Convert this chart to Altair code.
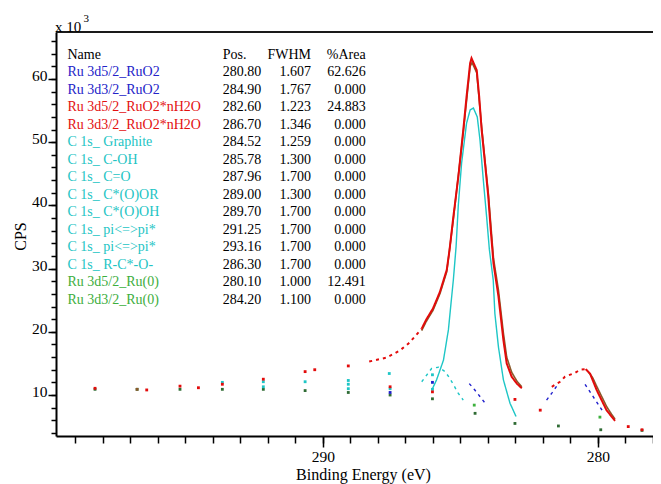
import altair as alt
import pandas as pd

# ------------------------------------------------------------------ data
# CasaXPS component table
table_header = ["Name", "Pos.", "FWHM", "%Area"]
comp_names = ["Ru 3d5/2_RuO2", "Ru 3d3/2_RuO2", "Ru 3d5/2_RuO2*nH2O", "Ru 3d3/2_RuO2*nH2O",
              "C 1s_ Graphite", "C 1s_ C-OH", "C 1s_ C=O", "C 1s_ C*(O)OR", "C 1s_ C*(O)OH",
              "C 1s_ pi<=>pi*", "C 1s_ pi<=>pi*", "C 1s_ R-C*-O-",
              "Ru 3d5/2_Ru(0)", "Ru 3d3/2_Ru(0)"]
comp_pos = ["280.80", "284.90", "282.60", "286.70", "284.52", "285.78", "287.96",
            "289.00", "289.70", "291.25", "293.16", "286.30", "280.10", "284.20"]
comp_fwhm = ["1.607", "1.767", "1.223", "1.346", "1.259", "1.300", "1.700",
             "1.300", "1.700", "1.700", "1.700", "1.700", "1.000", "1.100"]
comp_area = ["62.626", "0.000", "24.883", "0.000", "0.000", "0.000", "0.000",
             "0.000", "0.000", "0.000", "0.000", "0.000", "12.491", "0.000"]
comp_kind = ["RuO2", "RuO2", "RuO2*nH2O", "RuO2*nH2O"] + ["C 1s"] * 8 + ["Ru(0)", "Ru(0)"]

# curves: binding energy (eV) and counts (CPS x 10^3)
env_be = [298.29, 296.41, 295.20, 294.53, 293.66, 292.17, 290.65, 290.30, 289.08,
          288.32, 287.70, 287.22, 286.90, 286.65, 286.41, 286.25, 286.00, 285.75, 285.50, 285.40,
          285.26, 285.08, 284.90, 284.78, 284.65, 284.60, 284.41, 284.32, 284.23, 284.11, 283.99,
          283.90, 283.80, 283.62, 283.44, 283.32, 283.14, 282.95, 282.77,
          281.68, 281.38, 281.20, 280.84, 280.65, 280.45, 280.29, 280.05, 279.87, 279.69, 279.38,
          278.90, 278.40]
env_cps = [11.06, 10.80, 11.40, 11.15, 11.70, 12.50, 13.70, 14.00, 14.60,
           15.30, 15.90, 17.00, 18.10, 19.30, 20.50, 21.90, 23.70, 26.30, 29.80, 32.90,
           38.20, 44.50, 51.90, 57.20, 62.50, 63.30, 61.40, 57.20, 51.90, 46.70, 41.40,
           36.10, 30.80, 25.60, 18.70, 15.00, 12.90, 11.80, 11.06,
           11.30, 12.10, 12.90, 13.50, 14.00, 14.10, 13.40, 10.80, 9.20, 7.60, 5.90,
           5.00, 4.50]

data_be = [296.76, 286.41, 286.25, 286.00, 285.75, 285.50, 285.26, 284.90, 284.65, 284.58,
           284.41, 284.23, 283.99, 283.80, 283.62, 283.44, 283.32, 283.14, 282.95, 282.77,
           280.35, 280.20, 280.05, 279.87, 279.69, 279.50, 279.38]
data_cps = [10.90, 20.20, 21.60, 23.40, 26.00, 29.50, 37.80, 51.50, 62.00, 62.60,
            61.00, 52.40, 42.00, 31.60, 26.60, 19.80, 16.00, 13.60, 12.20, 11.30,
            13.60, 12.80, 11.40, 9.80, 8.20, 6.90, 6.20]

bg_be = [298.29, 296.76, 295.20, 293.66, 292.17, 290.65, 289.08, 287.56, 286.02,
         284.47, 283.02, 281.44, 279.90, 278.40]
bg_cps = [10.90, 10.90, 10.90, 10.90, 10.90, 10.70, 10.40, 10.00, 9.40,
          7.10, 5.50, 5.10, 4.50, 4.40]

graphite_be = [286.04, 285.87, 285.62, 285.44, 285.32, 285.26, 285.16, 285.08, 284.96, 284.78,
               284.65, 284.53, 284.39, 284.29, 284.17, 284.05, 283.95, 283.81, 283.75, 283.62,
               283.44, 283.20, 282.98]
graphite_cps = [10.80, 12.40, 15.50, 20.30, 25.60, 28.20, 33.50, 40.00, 46.70, 53.00,
                55.10, 55.40, 54.00, 50.30, 44.00, 38.20, 33.00, 28.20, 22.90, 17.60,
                12.40, 8.70, 6.60]

coh_be = [286.41, 286.05, 285.80, 285.56, 285.40, 285.25, 285.10, 284.90]
coh_cps = [12.10, 14.20, 14.40, 13.70, 12.70, 11.60, 10.40, 9.20]

cminor_be = [293.66, 292.17, 292.17, 290.65, 289.08, 289.08, 289.08, 287.59, 287.56, 286.02, 286.02]
cminor_cps = [12.00, 12.10, 11.30, 12.10, 12.30, 11.70, 11.00, 13.40, 11.00, 13.20, 10.90]

ruo2_32_be = [287.56, 286.02, 284.68, 284.50, 284.30, 284.05]
ruo2_32_cps = [10.40, 12.00, 11.80, 10.90, 9.80, 8.40]

ruo2_52_be = [281.87, 281.68, 281.44, 280.47, 280.17, 279.93, 279.78]
ruo2_52_cps = [9.20, 10.30, 11.80, 11.70, 9.70, 8.10, 7.10]

hyd_52_be = [283.02, 282.10]
hyd_52_cps = [9.30, 7.60]
hyd_32_be = [287.56, 286.02]
hyd_32_cps = [11.30, 10.50]

ru0_32_be = [284.50]
ru0_32_cps = [8.40]
ru0_52_be = [279.93]
ru0_52_cps = [6.50]

curves = {
    "background": (bg_be, bg_cps),
    "c_minor": (cminor_be, cminor_cps),
    "hyd_32": (hyd_32_be, hyd_32_cps),
    "hyd_52": (hyd_52_be, hyd_52_cps),
    "ru0_32": (ru0_32_be, ru0_32_cps),
    "ru0_52": (ru0_52_be, ru0_52_cps),
    "ruo2_32": (ruo2_32_be, ruo2_32_cps),
    "ruo2_52": (ruo2_52_be, ruo2_52_cps),
    "c_oh": (coh_be, coh_cps),
    "graphite": (graphite_be, graphite_cps),
    "data": (data_be, data_cps),
    "envelope": (env_be, env_cps),
}

# ------------------------------------------------------------------ style
SERIF = "Liberation Serif"
W, H = 597, 404
SEGMENTS = {
    "envelope": [(298.4, 289.0, "sparse"), (288.32, 286.41, "dotted"), (286.41, 282.77, "solid"),
                 (281.68, 280.45, "dotted"), (280.45, 279.38, "solid"), (278.9, 278.4, "sparse")],
    "data": [(296.8, 296.7, "sparse"), (286.41, 282.77, "solid"), (280.35, 279.38, "solid")],
    "background": [(299.0, 278.0, "sparse")],
    "graphite": [(286.04, 282.98, "solid")],
    "c_oh": [(286.41, 284.90, "dotted")],
    "c_minor": [(299.0, 278.0, "sparse")],
    "ruo2_32": [(287.6, 286.0, "sparse"), (284.68, 284.05, "dotted")],
    "ruo2_52": [(281.87, 281.44, "dotted"), (280.47, 279.78, "dotted")],
    "hyd_52": [(299.0, 278.0, "sparse")],
    "hyd_32": [(299.0, 278.0, "sparse")],
    "ru0_32": [(299.0, 278.0, "sparse")],
    "ru0_52": [(299.0, 278.0, "sparse")],
}
COLORS = {
    "envelope": "#E30B0B", "data": "#8B5A2B", "background": "#2F6B34",
    "graphite": "#1EC6C6", "c_oh": "#1EC6C6", "c_minor": "#1EC6C6",
    "ruo2_32": "#1F1FCC", "ruo2_52": "#1F1FCC",
    "hyd_52": "#E30B0B", "hyd_32": "#E30B0B",
    "ru0_32": "#3DB13D", "ru0_52": "#3DB13D",
    "RuO2": "#2323C8", "RuO2*nH2O": "#E31010", "C 1s": "#22C4C4", "Ru(0)": "#3DAE3D",
    "plain": "#000000",
}
color_scale = alt.Scale(domain=list(COLORS.keys()), range=list(COLORS.values()))
dash_scale = alt.Scale(domain=["solid", "dotted"], range=[[1, 0], [3, 4]])

rows = []
for key, (be, cps) in curves.items():
    for i, (hi, lo, style) in enumerate(SEGMENTS[key]):
        for b, c in zip(be, cps):
            if lo - 1e-6 <= b <= hi + 1e-6:
                rows.append({"key": key, "seg": f"{key}{i}", "style": style, "be": b, "cps": c})
df = pd.DataFrame(rows)

X_SCALE = alt.Scale(domain=[299.709, 299.709 - W / 27.5], nice=False, zero=False)
Y_SCALE = alt.Scale(domain=[3.513, 67.44], nice=False, zero=False)

X_AXIS = alt.Axis(orient="bottom", values=[290, 280], format="d", tickSize=11, tickWidth=1.5,
                  tickColor="black",
                  labelFont=SERIF, labelFontSize=15.5, labelColor="black", labelPadding=2,
                  domainColor="black", domainWidth=2, grid=False,
                  title="Binding Energy (eV)", titleFont=SERIF, titleFontSize=16,
                  titleFontWeight="normal", titleColor="black",
                  titleX=307, titleY=30, titleBaseline="top", titleAlign="center")
Y_AXIS = alt.Axis(orient="left", values=[10, 20, 30, 40, 50, 60], format="d", tickSize=8,
                  tickWidth=1.5,
                  tickColor="black", labelFont=SERIF, labelFontSize=15.5, labelColor="black",
                  labelPadding=1, labelBaseline="alphabetic", labelOffset=1.5,
                  domainColor="black", domainWidth=2, grid=False,
                  title="CPS", titleFont=SERIF, titleFontSize=16, titleFontWeight="normal",
                  titleColor="black", titleAngle=270, titleX=-31, titleY=204,
                  titleBaseline="alphabetic", titleAlign="center")
X_MINOR = alt.Axis(values=list(range(278, 300)), tickSize=7, tickWidth=1.5, tickColor="black",
                   labels=False, domain=False, grid=False, title=None, orient="bottom")
Y_MINOR = alt.Axis(values=list(range(4, 67, 2)), tickSize=5, tickWidth=1.5, tickColor="black",
                   labels=False, domain=False, grid=False, title=None, orient="left")

xe = alt.X("be:Q", scale=X_SCALE, axis=X_AXIS)
ye = alt.Y("cps:Q", scale=Y_SCALE, axis=Y_AXIS)
ce = alt.Color("key:N", scale=color_scale, legend=None)

squares = alt.Chart(df[df["style"] == "sparse"]).mark_square(size=8, opacity=1).encode(
    x=xe, y=ye, color=ce)

comp_lines = df[(df["style"] != "sparse") & (~df["key"].isin(["envelope", "data"]))]
lines_comp = alt.Chart(comp_lines).mark_line(strokeWidth=1.4).encode(
    x=xe, y=ye, color=ce, detail="seg:N",
    strokeDash=alt.StrokeDash("style:N", scale=dash_scale, legend=None))
lines_data = alt.Chart(df[(df["style"] != "sparse") & (df["key"] == "data")]).mark_line(
    strokeWidth=1.6).encode(x=xe, y=ye, color=ce, detail="seg:N",
                            strokeDash=alt.StrokeDash("style:N", scale=dash_scale, legend=None))
lines_env = alt.Chart(df[(df["style"] != "sparse") & (df["key"] == "envelope")]).mark_line(
    strokeWidth=2).encode(x=xe, y=ye, color=ce, detail="seg:N",
                          strokeDash=alt.StrokeDash("style:N", scale=dash_scale, legend=None))

top_line = alt.Chart(pd.DataFrame({"a": [0]})).mark_rule(color="#1a1a1a", strokeWidth=2).encode(
    x=alt.value(0), x2=alt.value(W), y=alt.value(0))

# component table
ROW0, ROWSTEP = 23.0, 17.47
tdf = pd.DataFrame({
    "name": [table_header[0]] + comp_names,
    "pos": [table_header[1]] + comp_pos,
    "fwhm": [table_header[2]] + comp_fwhm,
    "area": [table_header[3]] + comp_area,
    "kind": ["plain"] + comp_kind,
    "row": list(range(len(comp_names) + 1)),
})
tdf["ty"] = ROW0 + tdf["row"] * ROWSTEP
ty = alt.Y("ty:Q", scale=None, axis=None)
txt = dict(baseline="middle", font=SERIF, fontSize=14)
t_name = alt.Chart(tdf).mark_text(align="left", **txt).encode(
    x=alt.value(11.5), y=ty, text="name:N", color=alt.Color("kind:N", scale=color_scale, legend=None))
t_pos = alt.Chart(tdf).mark_text(align="left", color="black", **txt).encode(
    x=alt.value(166.7), y=ty, text="pos:N")
t_fwhm = alt.Chart(tdf).mark_text(align="right", color="black", **txt).encode(
    x=alt.value(255), y=ty, text="fwhm:N")
t_area = alt.Chart(tdf).mark_text(align="right", color="black", **txt).encode(
    x=alt.value(309.7), y=ty, text="area:N")

mult = alt.Chart(pd.DataFrame({"t": ["x 10"]})).mark_text(
    align="left", baseline="alphabetic", font=SERIF, fontSize=15, color="black").encode(
    x=alt.value(-1), y=alt.value(-0.5), text="t:N")
expo = alt.Chart(pd.DataFrame({"t": ["3"]})).mark_text(
    align="left", baseline="alphabetic", font=SERIF, fontSize=11, color="black").encode(
    x=alt.value(27.5), y=alt.value(-10), text="t:N")

inner = alt.layer(squares, lines_comp, lines_data, lines_env, top_line,
                  t_name, t_pos, t_fwhm, t_area, mult, expo)

minor = alt.Chart(pd.DataFrame({"be": [290.0], "cps": [10.0]})).mark_point(opacity=0).encode(
    x=alt.X("be:Q", scale=X_SCALE, axis=X_MINOR),
    y=alt.Y("cps:Q", scale=Y_SCALE, axis=Y_MINOR))

chart = alt.layer(minor, inner).resolve_axis(x="independent", y="independent").properties(
    width=W, height=H,
    padding={"left": 48, "top": 24, "right": 0, "bottom": 48},
    autosize=alt.AutoSizeParams(type="none"),
    background="white",
).configure_view(stroke=None)

chart.save("out.html", embed_options={"renderer": "svg", "actions": False})
